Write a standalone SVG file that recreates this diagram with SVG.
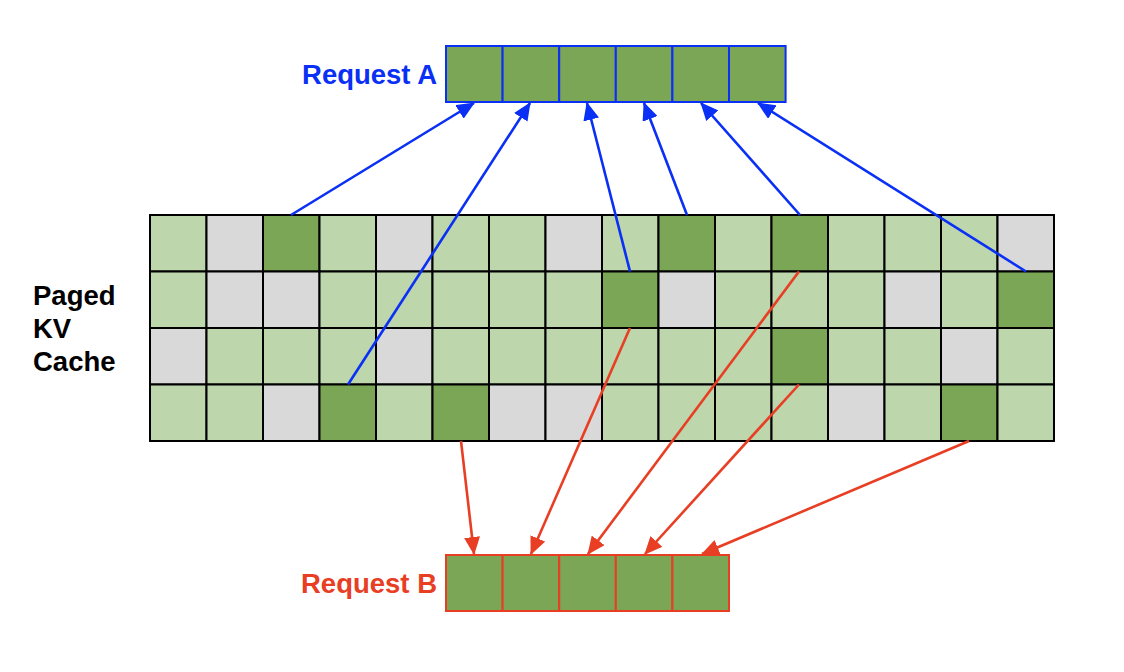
<svg xmlns="http://www.w3.org/2000/svg" width="1124" height="672" viewBox="0 0 1124 672">
<style>
.L{fill:#bdd6ac}.G{fill:#d9d9d9}.D{fill:#7aa656}
.grid rect{stroke:#000;stroke-width:2}
.lbl{font-family:"Liberation Sans",Arial,sans-serif;font-weight:bold;font-size:27.5px}
.ra rect{fill:#7aa656;stroke:#0a2ff5;stroke-width:2}
.rb rect{fill:#7aa656;stroke:#e83e24;stroke-width:2}
.ba{stroke:#0a2ff5;stroke-width:2.6;fill:none;marker-end:url(#ah)}
.bb{stroke:#e83e24;stroke-width:2.6;fill:none;marker-end:url(#bh)}
</style>
<defs>
<marker id="ah" markerUnits="userSpaceOnUse" markerWidth="18" markerHeight="16" refX="17" refY="8" orient="auto"><path d="M0,0 L18,8 L0,16 Z" fill="#0a2ff5"/></marker>
<marker id="bh" markerUnits="userSpaceOnUse" markerWidth="18" markerHeight="16" refX="17" refY="8" orient="auto"><path d="M0,0 L18,8 L0,16 Z" fill="#e83e24"/></marker>
</defs>
<rect width="1124" height="672" fill="#fff"/>
<g id="kv-cache" class="grid">
<rect class="L" x="150" y="215" width="56.5" height="56.5"/><rect class="G" x="206.5" y="215" width="56.5" height="56.5"/><rect class="D" x="263" y="215" width="56.5" height="56.5"/><rect class="L" x="319.5" y="215" width="56.5" height="56.5"/><rect class="G" x="376" y="215" width="56.5" height="56.5"/><rect class="L" x="432.5" y="215" width="56.5" height="56.5"/><rect class="L" x="489" y="215" width="56.5" height="56.5"/><rect class="G" x="545.5" y="215" width="56.5" height="56.5"/><rect class="L" x="602" y="215" width="56.5" height="56.5"/><rect class="D" x="658.5" y="215" width="56.5" height="56.5"/><rect class="L" x="715" y="215" width="56.5" height="56.5"/><rect class="D" x="771.5" y="215" width="56.5" height="56.5"/><rect class="L" x="828" y="215" width="56.5" height="56.5"/><rect class="L" x="884.5" y="215" width="56.5" height="56.5"/><rect class="L" x="941" y="215" width="56.5" height="56.5"/><rect class="G" x="997.5" y="215" width="56.5" height="56.5"/>
<rect class="L" x="150" y="271.5" width="56.5" height="56.5"/><rect class="G" x="206.5" y="271.5" width="56.5" height="56.5"/><rect class="G" x="263" y="271.5" width="56.5" height="56.5"/><rect class="L" x="319.5" y="271.5" width="56.5" height="56.5"/><rect class="L" x="376" y="271.5" width="56.5" height="56.5"/><rect class="L" x="432.5" y="271.5" width="56.5" height="56.5"/><rect class="L" x="489" y="271.5" width="56.5" height="56.5"/><rect class="L" x="545.5" y="271.5" width="56.5" height="56.5"/><rect class="D" x="602" y="271.5" width="56.5" height="56.5"/><rect class="G" x="658.5" y="271.5" width="56.5" height="56.5"/><rect class="L" x="715" y="271.5" width="56.5" height="56.5"/><rect class="L" x="771.5" y="271.5" width="56.5" height="56.5"/><rect class="L" x="828" y="271.5" width="56.5" height="56.5"/><rect class="G" x="884.5" y="271.5" width="56.5" height="56.5"/><rect class="L" x="941" y="271.5" width="56.5" height="56.5"/><rect class="D" x="997.5" y="271.5" width="56.5" height="56.5"/>
<rect class="G" x="150" y="328" width="56.5" height="56.5"/><rect class="L" x="206.5" y="328" width="56.5" height="56.5"/><rect class="L" x="263" y="328" width="56.5" height="56.5"/><rect class="L" x="319.5" y="328" width="56.5" height="56.5"/><rect class="G" x="376" y="328" width="56.5" height="56.5"/><rect class="L" x="432.5" y="328" width="56.5" height="56.5"/><rect class="L" x="489" y="328" width="56.5" height="56.5"/><rect class="L" x="545.5" y="328" width="56.5" height="56.5"/><rect class="L" x="602" y="328" width="56.5" height="56.5"/><rect class="L" x="658.5" y="328" width="56.5" height="56.5"/><rect class="L" x="715" y="328" width="56.5" height="56.5"/><rect class="D" x="771.5" y="328" width="56.5" height="56.5"/><rect class="L" x="828" y="328" width="56.5" height="56.5"/><rect class="L" x="884.5" y="328" width="56.5" height="56.5"/><rect class="G" x="941" y="328" width="56.5" height="56.5"/><rect class="L" x="997.5" y="328" width="56.5" height="56.5"/>
<rect class="L" x="150" y="384.5" width="56.5" height="56.5"/><rect class="L" x="206.5" y="384.5" width="56.5" height="56.5"/><rect class="G" x="263" y="384.5" width="56.5" height="56.5"/><rect class="D" x="319.5" y="384.5" width="56.5" height="56.5"/><rect class="L" x="376" y="384.5" width="56.5" height="56.5"/><rect class="D" x="432.5" y="384.5" width="56.5" height="56.5"/><rect class="G" x="489" y="384.5" width="56.5" height="56.5"/><rect class="G" x="545.5" y="384.5" width="56.5" height="56.5"/><rect class="L" x="602" y="384.5" width="56.5" height="56.5"/><rect class="L" x="658.5" y="384.5" width="56.5" height="56.5"/><rect class="L" x="715" y="384.5" width="56.5" height="56.5"/><rect class="L" x="771.5" y="384.5" width="56.5" height="56.5"/><rect class="G" x="828" y="384.5" width="56.5" height="56.5"/><rect class="L" x="884.5" y="384.5" width="56.5" height="56.5"/><rect class="D" x="941" y="384.5" width="56.5" height="56.5"/><rect class="L" x="997.5" y="384.5" width="56.5" height="56.5"/>
</g>
<g id="kv-label">
<text class="lbl" x="33" y="305" fill="#000">Paged</text>
<text class="lbl" x="33" y="338" fill="#000">KV</text>
<text class="lbl" x="33" y="371" fill="#000">Cache</text>
</g>
<g id="request-a" class="ra">
<text class="lbl" x="437" y="84" fill="#0a2ff5" text-anchor="end" stroke="none">Request A</text>
<rect x="446" y="46" width="56.6" height="56"/><rect x="502.6" y="46" width="56.6" height="56"/><rect x="559.2" y="46" width="56.6" height="56"/><rect x="615.8" y="46" width="56.6" height="56"/><rect x="672.4" y="46" width="56.6" height="56"/><rect x="729" y="46" width="56.6" height="56"/>
</g>
<g id="request-b" class="rb">
<text class="lbl" x="437" y="593" fill="#e83e24" text-anchor="end" stroke="none">Request B</text>
<rect x="446" y="555" width="56.6" height="56"/><rect x="502.6" y="555" width="56.6" height="56"/><rect x="559.2" y="555" width="56.6" height="56"/><rect x="615.8" y="555" width="56.6" height="56"/><rect x="672.4" y="555" width="56.6" height="56"/>
</g>
<g id="connectors">
<line class="ba" x1="291" y1="215" x2="474" y2="103"/>
<line class="ba" x1="348" y1="384.5" x2="530" y2="103"/>
<line class="ba" x1="630" y1="271.5" x2="587" y2="103"/>
<line class="ba" x1="687" y1="215" x2="644" y2="103"/>
<line class="ba" x1="800" y1="215" x2="701" y2="103"/>
<line class="ba" x1="1026" y1="271.5" x2="758" y2="103"/>
<line class="bb" x1="461" y1="441" x2="474" y2="554"/>
<line class="bb" x1="630" y1="328" x2="531" y2="554"/>
<line class="bb" x1="799" y1="271.5" x2="588" y2="554"/>
<line class="bb" x1="799" y1="384.5" x2="645" y2="554"/>
<line class="bb" x1="969" y1="441" x2="702" y2="554"/>
</g>
</svg>
